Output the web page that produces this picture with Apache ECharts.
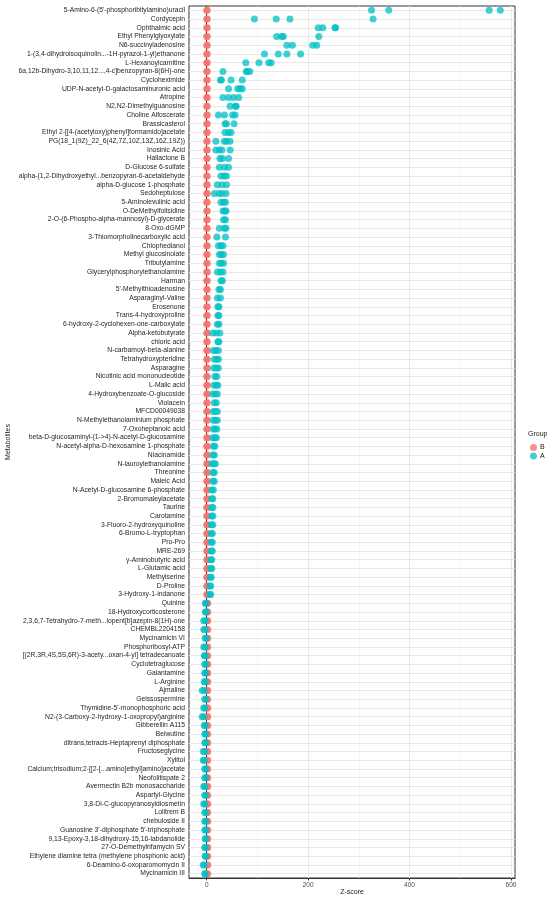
<!DOCTYPE html>
<html>
<head>
<meta charset="utf-8">
<script src="https://cdn.jsdelivr.net/npm/echarts@6/dist/echarts.min.js"></script>
<style>
html,body{margin:0;padding:0;background:#fff;}
#chart{width:550px;height:899px;}
</style>
</head>
<body>
<div id="chart"></div>
<script>
const metabolites = [
"5-Amino-6-(5'-phosphoribitylamino)uracil","Cordycepin","Ophthalmic acid","Ethyl Phenylglyoxylate","N6-succinyladenosine",
"1-(3,4-dihydroisoquinolin...-1H-pyrazol-1-yl)ethanone","L-Hexanoylcarnitine","6a,12b-Dihydro-3,10,11,12...,4-c]benzopyran-8(6H)-one","Cycloheximide","UDP-N-acetyl-D-galactosaminuronic acid",
"Atropine","N2,N2-Dimethylguanosine","Choline Alfoscerate","Brassicasterol","Ethyl 2-[[4-(acetyloxy)phenyl]formamido]acetate",
"PG(18_1(9Z)_22_6(4Z,7Z,10Z,13Z,16Z,19Z))","Inosinic Acid","Hallactone B","D-Glucose 6-sulfate","alpha-(1,2-Dihydroxyethyl...benzopyran-6-acetaldehyde",
"alpha-D-glucose 1-phosphate","Sedoheptulose","5-Aminolevulinic acid","O-DeMethylfolisidine","2-O-(6-Phospho-alpha-mannosyl)-D-glycerate",
"8-Oxo-dGMP","3-Thiomorpholinecarboxylic acid","Chlophedianol","Methyl glucosinolate","Tributylamine",
"Glycerylphosphorylethanolamine","Harman","5'-Methylthioadenosine","Asparaginyl-Valine","Erosenone",
"Trans-4-hydroxyproline","6-hydroxy-2-cyclohexen-one-carboxylate","Alpha-ketobutyrate","chloric acid","N-carbamoyl-beta-alanine",
"Tetrahydroxypteridine","Asparagine","Nicotinic acid mononucleotide","L-Malic acid","4-Hydroxybenzoate-O-glucoside",
"Violacein","MFCD00049038","N-Methylethanolaminium phosphate","7-Oxoheptanoic acid","beta-D-glucosaminyl-(1->4)-N-acetyl-D-glucosamine",
"N-acetyl-alpha-D-hexosamine 1-phosphate","Niacinamide","N-lauroylethanolamine","Threonine","Maleic Acid",
"N-Acetyl-D-glucosamine 6-phosphate","2-Bromomaleylacetate","Taurine","Carotamine","3-Fluoro-2-hydroxyquinoline",
"6-Bromo-L-tryptophan","Pro-Pro","MRE-269","γ-Aminobutyric acid","L-Glutamic acid",
"Methylserine","D-Proline","3-Hydroxy-1-indanone","Quinine","18-Hydroxycorticosterone",
"2,3,6,7-Tetrahydro-7-meth...lopent[b]azepin-8(1H)-one","CHEMBL2204158","Mycinamicin VI","Phosphoribosyl-ATP","[(2R,3R,4S,5S,6R)-3-acety...oxan-4-yl] tetradecanoate",
"Cyclotetraglucose","Galantamine","L-Arginine","Ajmaline","Geissospermine",
"Thymidine-5'-monophosphoric acid","N2-(3-Carboxy-2-hydroxy-1-oxopropyl)arginine","Gibberellin A115","Beiwutine","ditrans,tetracis-Heptaprenyl diphosphate",
"Fructoseglycine","Xylitol","Calcium;trisodium;2-[[2-[...amino]ethyl]amino]acetate","Neofolitispate 2","Avermectin B2b monosaccharide",
"Aspartyl-Glycine","3,8-Di-C-glucopyranosyldiosmetin","Lolitrem B","chebuloside II","Guanosine 3'-diphosphate 5'-triphosphate",
"9,13-Epoxy-3,18-dihydroxy-15,16-labdanolide","27-O-Demethylrifamycin SV","Ethylene diamine tetra (methylene phosphonic acid)","6-Deamino-6-oxoparomomycin II","Mycinamicin III"
];

const groupA = [
[325,359,557,579],[94,137,164,328],[220,229,253,254],[138,148,151,221],[158,169,209,217],
[114,141,158,185],[77,103,122,127],[32,78,80,85],[27,29,48,70],[43,61,66,70],
[32,43,53,63],[46,57,58],[23,35,51,56],[36,39,54],[36,43,48],
[18,35,39,46],[18,25,30,46],[26,31,43],[25,35,43],[28,34,39],
[21,30,39],[15,24,30,38],[28,33,37],[32,36,38],[33,37],
[25,35,38],[20,37],[23,28,32],[25,29,33],[25,29,33],
[21,27,32],[28,31],[24,27],[21,27],[22,24],
[22,24],[21,24],[12,19,26],[22,24],[13,18,23],
[15,20,23],[14,19,23],[16,20],[14,19,22],[12,17,21],
[15,19],[13,17,21],[13,17,21],[13,16,20],[12,16,19],
[13,16],[12,15],[10,14,17],[12,15],[12,15],
[10,13],[10,12],[10,12],[10,12],[9,12],
[9,11],[9,11],[9,11],[8,10],[8,10],
[7,9],[6,8],[6,8],[-3,-1],[-3,-1],
[-6,-3],[-6,-3],[-3,-1],[-6,-3],[-5,-3],
[-4,-2],[-4,-2],[-5,-3],[-9,-5],[-4,-2],
[-6,-4],[-9,-6],[-5,-3],[-4,-2],[-4,-2],
[-7,-4],[-7,-5],[-4,-2],[-4,-2],[-6,-4],
[-4,-2],[-6,-4],[-4,-2],[-4,-2],[-4,-2],
[-3,-2],[-4,-2],[-3,-2],[-7,-5],[-4,-3]
];

const groupB = [
[0,1],[0,1],[0,1],[0,1],[0,1],[0,1],[0,1],[0,1],[0,1],[0,1],
[0,1],[0,1],[0,1],[0,1],[0,1],[0,1],[0,1],[0,1],[0,1],[0,1],
[0,1],[0,1],[0,1],[0,1],[0,1],[0,1],[0,1],[0,1],[0,1],[0,1],
[0,1],[0,1],[0,1],[0,1],[0,1],[0,1],[0,1],[0,1],[0,1],[0,1],
[0,1],[0,1],[0,1],[0,1],[0,1],[0,1],[0,1],[0,1],[0,1],[0,1],
[0,1],[0,1],[0,1],[0,1],[0,1],[0,1],[0,1],[0,1],[0,1],[0,1],
[0,1],[0,1],[0,1],[0,1],[0,1],[0,1],[0,1],[0,1],[1,2],[1,2],
[1,2],[1,2],[1,2],[1,2],[1,2],[1,2],[1,2],[1,2],[1,2],[1,2],
[1,2],[1,2],[1,2],[1,2],[1,2],[1,2],[1,2],[1,2],[1,2],[1,2],
[1,2],[1,2],[1,2],[1,2],[1,2],[1,2],[1,2],[1,2],[1,2],[1,2]
];

const xTicks = [0, 200, 400, 600];
const xMinorTicks = [100, 300, 500];
const groupNames = ['B', 'A'];

const FONT = "'Liberation Sans', Arial, Helvetica, sans-serif";

function points(arr) {
  const out = [];
  arr.forEach((vals, i) => vals.forEach(v => out.push([v, metabolites[i]])));
  return out;
}

const chart = echarts.init(document.getElementById('chart'), null, {renderer: 'canvas'});

const option = {
  animation: false,
  backgroundColor: '#ffffff',
  textStyle: {fontFamily: FONT},
  title: {
    text: 'Group', left: 523, top: 426,
    textStyle: {fontSize: 7, fontWeight: 'normal', color: '#1a1a1a', fontFamily: FONT}
  },
  legend: {
    data: groupNames, orient: 'vertical', left: 525, top: 439,
    icon: 'circle', itemWidth: 7, itemHeight: 7, itemGap: 1.5,
    textStyle: {fontSize: 7, color: '#1a1a1a', fontFamily: FONT, padding: [0,0,0,-2]}
  },
  grid: {
    left: 189, right: 35, top: 6, bottom: 21,
    show: true, borderColor: '#333333', borderWidth: 1,
    containLabel: false, outerBoundsMode: 'none'
  },
  xAxis: {
    type: 'value', min: -35, max: 608,
    name: 'Z-score', nameLocation: 'middle', nameGap: 11, nameMoveOverlap: false,
    nameTextStyle: {fontSize: 7, color: '#1a1a1a', fontFamily: FONT},
    splitLine: {show: false},
    axisLine: {show: true, onZero: false, lineStyle: {color: '#333333', width: 1}},
    axisTick: {show: true, customValues: xTicks, length: 2.5, lineStyle: {color: '#333333'}},
    axisLabel: {customValues: xTicks, fontSize: 6.5, color: '#4d4d4d', margin: 4, fontFamily: FONT}
  },
  yAxis: {
    type: 'category', data: metabolites, inverse: true,
    name: 'Metabolites', nameLocation: 'middle', nameGap: 177, nameRotate: 90, nameMoveOverlap: false,
    nameTextStyle: {fontSize: 7, color: '#1a1a1a', fontFamily: FONT},
    splitLine: {show: false},
    axisLine: {show: true, lineStyle: {color: '#333333', width: 1}},
    axisTick: {show: true, alignWithLabel: true, interval: 0, length: 2.5, lineStyle: {color: '#333333'}},
    axisLabel: {interval: 0, fontSize: 6.75, color: '#262626', margin: 4, fontFamily: FONT}
  },
  series: [
    {
      name: '_grid', type: 'scatter', data: [], z: 0, silent: true,
      markLine: {
        z: 0, silent: true, symbol: ['none', 'none'], label: {show: false}, animation: false,
        data: [
          ...metabolites.map(m => ({yAxis: m, lineStyle: {color: '#e8e8e8', width: 1, type: 'solid'}})),
          ...xTicks.map(v => ({xAxis: v, lineStyle: {color: '#e8e8e8', width: 1, type: 'solid'}})),
          ...xMinorTicks.map(v => ({xAxis: v, lineStyle: {color: '#f0f0f0', width: 0.6, type: 'solid'}}))
        ]
      }
    },
    {
      name: 'B', type: 'scatter', data: points(groupB), symbolSize: 7, z: 4,
      itemStyle: {color: '#F8766D', opacity: 0.8}
    },
    {
      name: 'A', type: 'scatter', data: points(groupA), symbolSize: 7, z: 5,
      itemStyle: {color: '#00BFC4', opacity: 0.75}
    }
  ]
};
chart.setOption(option);
</script>
</body>
</html>
